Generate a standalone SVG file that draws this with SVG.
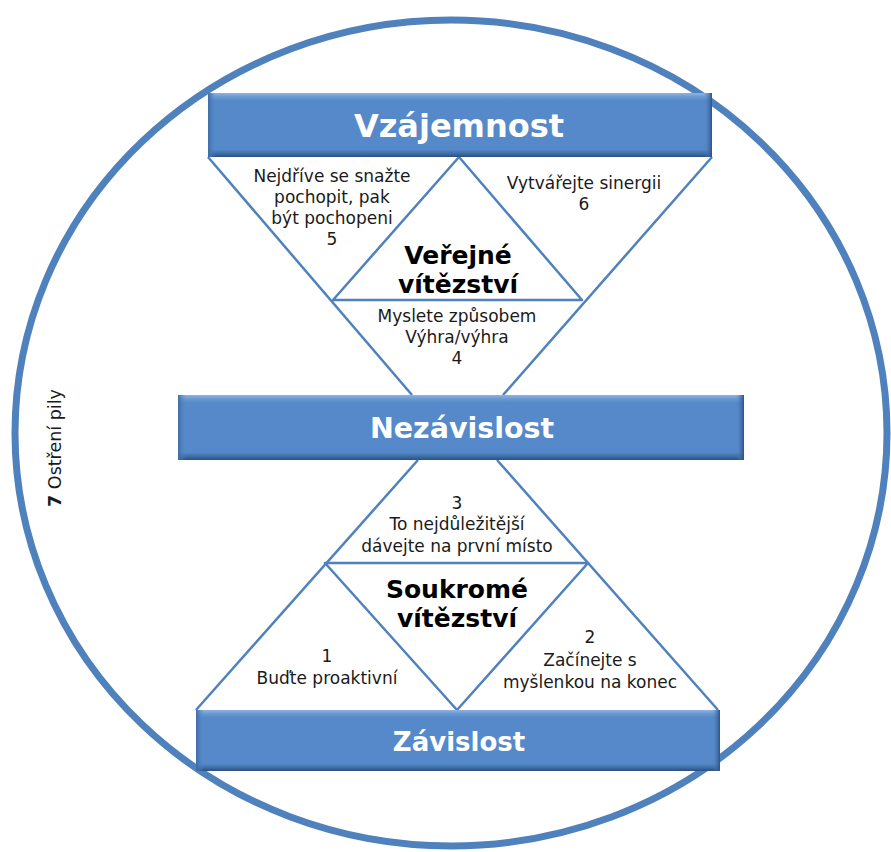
<svg xmlns="http://www.w3.org/2000/svg" width="891" height="852" viewBox="0 0 891 852">
<defs>
<linearGradient id="barg" x1="0" y1="0" x2="0" y2="1">
<stop offset="0" stop-color="#8DB3E2"/>
<stop offset="0.06" stop-color="#6A9AD3"/>
<stop offset="0.12" stop-color="#5589C9"/>
<stop offset="0.88" stop-color="#5589C9"/>
<stop offset="0.94" stop-color="#4070AA"/>
<stop offset="1" stop-color="#2C4F7C"/>
</linearGradient>
<linearGradient id="edgeL" x1="0" y1="0" x2="1" y2="0">
<stop offset="0" stop-color="#3E6CA6"/>
<stop offset="1" stop-color="#5589C9" stop-opacity="0"/>
</linearGradient>
<linearGradient id="edgeR" x1="0" y1="0" x2="1" y2="0">
<stop offset="0" stop-color="#5589C9" stop-opacity="0"/>
<stop offset="1" stop-color="#2E5283"/>
</linearGradient>
</defs>
<style>
.ring{fill:none;stroke:#4F81BD;stroke-width:7}
.ln{fill:none;stroke:#4F81BD;stroke-width:2.5;stroke-linejoin:round}
.bar{fill:url(#barg)}
.bt{font-family:"DejaVu Sans",Verdana,sans-serif;font-weight:bold;fill:#FFFFFF;text-anchor:middle}
.t{font-family:"DejaVu Sans",Verdana,sans-serif;font-size:17px;fill:#1A1A1A;text-anchor:middle}
.h{font-family:"DejaVu Sans",Verdana,sans-serif;font-size:25px;font-weight:bold;fill:#000000;text-anchor:middle}
</style>
<ellipse class="ring" cx="451" cy="433" rx="436" ry="413"/>
<g id="connectors">
<polyline class="ln" points="208,157 412,395"/>
<polyline class="ln" points="712,157 503,395"/>
<polygon class="ln" points="459,157 333,300 582,300"/>
<polyline class="ln" points="418,460 196,710"/>
<polyline class="ln" points="497,460 718,710"/>
<polygon class="ln" points="325,563 588,563 457,710"/>
</g>
<g id="bar-top">
<rect class="bar" x="208" y="93" width="504" height="64"/>
<rect x="208" y="93" width="8" height="64" fill="url(#edgeL)"/>
<rect x="704" y="93" width="8" height="64" fill="url(#edgeR)"/>
<text class="bt" x="459" y="137" font-size="32">Vzájemnost</text>
</g>
<g id="bar-mid">
<rect class="bar" x="178" y="395" width="566" height="65"/>
<rect x="178" y="395" width="8" height="65" fill="url(#edgeL)"/>
<rect x="736" y="395" width="8" height="65" fill="url(#edgeR)"/>
<text class="bt" x="462" y="438" font-size="28.5">Nezávislost</text>
</g>
<g id="bar-bot">
<rect class="bar" x="196" y="710" width="524" height="61"/>
<rect x="196" y="710" width="8" height="61" fill="url(#edgeL)"/>
<rect x="712" y="710" width="8" height="61" fill="url(#edgeR)"/>
<text class="bt" x="459" y="751" font-size="26">Závislost</text>
</g>
<g id="n5">
<text class="t" x="332" y="182">Nejdříve se snažte</text>
<text class="t" x="332" y="203">pochopit, pak</text>
<text class="t" x="332" y="224">být pochopeni</text>
<text class="t" x="332" y="245">5</text>
</g>
<g id="n6">
<text class="t" x="584" y="189">Vytvářejte sinergii</text>
<text class="t" x="584" y="210">6</text>
</g>
<g id="verejne">
<text class="h" x="458" y="264">Veřejné</text>
<text class="h" x="458" y="293">vítězství</text>
</g>
<g id="n4">
<text class="t" x="457" y="322">Myslete způsobem</text>
<text class="t" x="457" y="343">Výhra/výhra</text>
<text class="t" x="457" y="364">4</text>
</g>
<g id="n3">
<text class="t" x="457" y="509">3</text>
<text class="t" x="457" y="530">To nejdůležitější</text>
<text class="t" x="457" y="552">dávejte na první místo</text>
</g>
<g id="soukrome">
<text class="h" x="457" y="598">Soukromé</text>
<text class="h" x="457" y="627">vítězství</text>
</g>
<g id="n1">
<text class="t" x="327" y="662">1</text>
<text class="t" x="327" y="684">Buďte proaktivní</text>
</g>
<g id="n2">
<text class="t" x="590" y="643">2</text>
<text class="t" x="590" y="666">Začínejte s</text>
<text class="t" x="590" y="688">myšlenkou na konec</text>
</g>
<g id="n7">
<text transform="translate(61,448) rotate(-90)" font-family="'DejaVu Sans',Verdana,sans-serif" font-size="17.5" fill="#1A1A1A" text-anchor="middle"><tspan font-weight="bold">7</tspan> Ostření pily</text>
</g>
</svg>
